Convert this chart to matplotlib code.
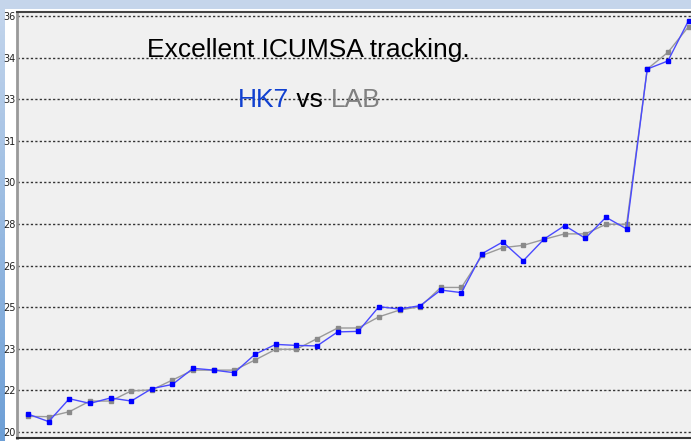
import numpy as np
import matplotlib
matplotlib.use('Agg')
import matplotlib.pyplot as plt
from matplotlib.patches import Rectangle

# --- data
hk7 = [20.69, 20.40, 21.28, 21.10, 21.31, 21.19, 21.67, 21.83, 22.45, 22.38,
       22.28, 22.99, 23.37, 23.33, 23.31, 23.85, 23.87, 24.82, 24.73, 24.86,
       25.46, 25.36, 26.86, 27.31, 26.59, 27.42, 27.94, 27.45, 28.26, 27.81,
       33.96, 34.27, 35.82]
lab = [20.60, 20.59, 20.78, 21.19, 21.19, 21.58, 21.62, 22.00, 22.38, 22.38,
       22.38, 22.77, 23.18, 23.18, 23.59, 24.00, 24.00, 24.43, 24.69, 24.82,
       25.56, 25.56, 26.79, 27.09, 27.18, 27.41, 27.62, 27.62, 27.99, 27.99,
       33.96, 34.60, 35.59]
yticks = np.linspace(20, 36, 11)
ytick_labels = [str(int(round(v))) for v in yticks]

W, H = 691, 441
fig = plt.figure(figsize=(W / 100, H / 100), dpi=100)
fig.patch.set_facecolor('white')

#--- window chrome: blue band on top, gradient strip on the left
fig.patches.append(Rectangle((0, 1 - 9 / H), 1, 9 / H, transform=fig.transFigure,
                             facecolor='#c5d5eb', edgecolor='none', zorder=0))
strip = fig.add_axes([0, 0, 5 / W, 1 - 9 / H])
grad = np.linspace(0, 1, 100).reshape(-1, 1)
strip.imshow(grad, aspect='auto', cmap=matplotlib.colors.LinearSegmentedColormap.from_list(
    'g', ['#c3d5ec', '#6d9fd6']), extent=[0, 1, 0, 1])
strip.set_axis_off()

ax = fig.add_axes([17 / W, 3 / H, 1 - 17 / W, (438 - 12) / H])
ax.set_facecolor('#f0f0f0')

x = np.arange(len(hk7))
ax.plot(x, lab, color='#9a9a9a', lw=1, marker='s', ms=3,
        mfc='#8a8a8a', mec='#8a8a8a', zorder=3)
ax.plot(x, hk7, color='#4a4aff', lw=1, marker='s', ms=3.2,
        mfc='#0000ff', mec='#0000ff', zorder=4)

ax.set_xlim(-0.533, 32.12)
ax.set_ylim(20 - 6 / 26, 36 + 4 / 26)
ax.set_yticks(yticks)
ax.set_yticklabels(ytick_labels)
ax.set_xticks([])
ax.tick_params(axis='y', length=0, pad=1, labelsize=7, colors='#222222')
ax.grid(axis='y', color='#333333', lw=1, linestyle=(0, (1.6, 1.6)))

ax.spines['right'].set_visible(False)
ax.spines['left'].set_color('#999999')
ax.spines['left'].set_linewidth(2)
ax.spines['top'].set_color('#444444')
ax.spines['top'].set_linewidth(1.5)
ax.spines['bottom'].set_color('#333333')
ax.spines['bottom'].set_linewidth(1.5)

#--- annotations
fnt = 'Liberation Sans'
fig.text(308 / W, 1 - 50 / H, 'Excellent ICUMSA tracking.',
         ha='center', va='center', fontsize=19, family=fnt, color='black')
t1 = fig.text(238 / W, 1 - 100 / H, 'HK7', ha='left', va='center',
              fontsize=19, family=fnt, color='#1040d0')
t2 = ax.annotate(' vs ', xy=(1, 0), xycoords=t1, va='bottom',
                 fontsize=19, family=fnt, color='black')
ax.annotate('LAB', xy=(1, 0), xycoords=t2, va='bottom',
            fontsize=19, family=fnt, color='#808080')

fig.savefig('out.png', dpi=100)
